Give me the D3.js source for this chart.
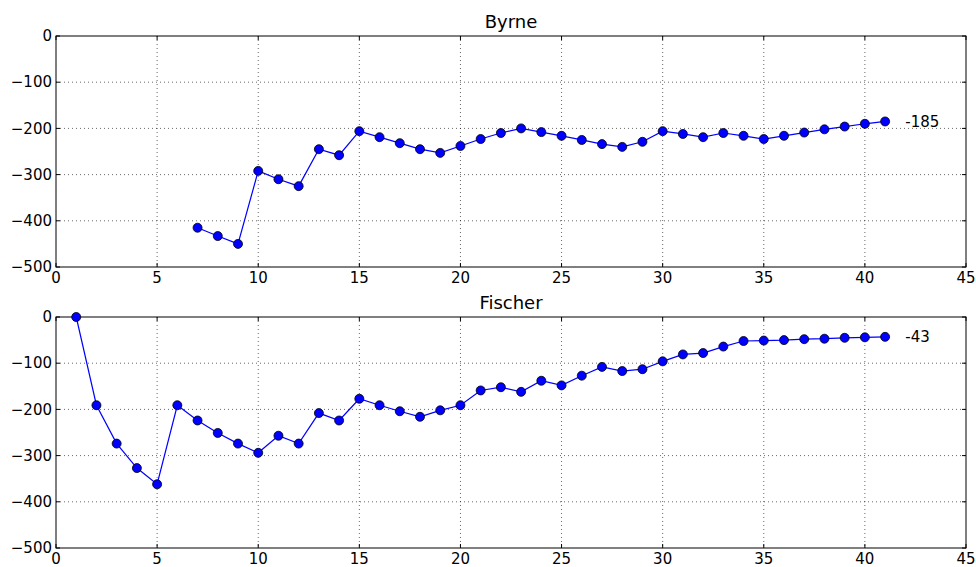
<!DOCTYPE html>
<html>
<head>
<meta charset="utf-8">
<script src="https://cdn.jsdelivr.net/npm/d3@7"></script>
<style>
  body { margin: 0; background: #fff; }
  svg { display: block; font-family: "DejaVu Sans", sans-serif; }
</style>
</head>
<body>
<div id="chart"></div>
<script>
// Byrne series starts at game 7, Fischer at game 1
const byrneX = d3.range(7, 42);
const byrneY = [-415, -433, -450, -292, -310, -325, -245, -258, -206, -219,
  -232, -245, -253, -238, -223, -210, -200, -208, -216, -225,
  -234, -240, -229, -206, -212, -219, -210, -216, -223, -216,
  -209, -202, -196, -190, -185];

const fischerX = d3.range(1, 42);
const fischerY = [0, -191, -274, -327, -362, -191, -224, -251, -274, -294,
  -257, -274, -208, -224, -177, -191, -204, -216, -202, -191,
  -159, -152, -162, -138, -148, -127, -108, -117, -113, -96,
  -81, -78, -64, -52, -51, -50, -48, -47, -45, -44, -43];

const panels = [
  { title: 'Byrne', xs: byrneX, ys: byrneY, top: 36 },
  { title: 'Fischer', xs: fischerX, ys: fischerY, top: 317 },
];

const xTicks = d3.range(0, 46, 5);
const yTicks = d3.range(0, -501, -100);

const width = 976, height = 567;
const left = 56, right = 966, plotH = 231;

const svg = d3.select('#chart').append('svg')
  .attr('width', width).attr('height', height);

const x = d3.scaleLinear().domain([0, 45]).range([left, right]);
const fmt = (d) => (d < 0 ? '\u2212' + Math.abs(d) : String(d));

panels.forEach((p) => {
  const y = d3.scaleLinear().domain([-500, 0]).range([p.top + plotH, p.top]);
  const g = svg.append('g');

  // grid
  g.selectAll('.gx').data(xTicks.slice(1, -1)).join('line')
    .attr('x1', (d) => x(d)).attr('x2', (d) => x(d))
    .attr('y1', p.top).attr('y2', p.top + plotH)
    .attr('stroke', '#000').attr('stroke-width', 0.6).attr('stroke-dasharray', '1,3');
  g.selectAll('.gy').data(yTicks.slice(1, -1)).join('line')
    .attr('y1', (d) => y(d)).attr('y2', (d) => y(d))
    .attr('x1', left).attr('x2', right)
    .attr('stroke', '#000').attr('stroke-width', 0.6).attr('stroke-dasharray', '1,3');

  // inward ticks on all four sides
  const tick = 4;
  xTicks.forEach((t) => {
    g.append('line').attr('x1', x(t)).attr('x2', x(t))
      .attr('y1', p.top + plotH).attr('y2', p.top + plotH - tick).attr('stroke', '#000');
    g.append('line').attr('x1', x(t)).attr('x2', x(t))
      .attr('y1', p.top).attr('y2', p.top + tick).attr('stroke', '#000');
  });
  yTicks.forEach((t) => {
    g.append('line').attr('x1', left).attr('x2', left + tick)
      .attr('y1', y(t)).attr('y2', y(t)).attr('stroke', '#000');
    g.append('line').attr('x1', right).attr('x2', right - tick)
      .attr('y1', y(t)).attr('y2', y(t)).attr('stroke', '#000');
  });

  // tick labels
  g.selectAll('.xl').data(xTicks).join('text')
    .attr('x', (d) => x(d)).attr('y', p.top + plotH + 16)
    .attr('text-anchor', 'middle').attr('font-size', 15).text((d) => d);
  g.selectAll('.yl').data(yTicks).join('text')
    .attr('x', left - 4).attr('y', (d) => y(d)).attr('dy', '0.35em')
    .attr('text-anchor', 'end').attr('font-size', 15).text(fmt);

  // frame
  g.append('rect').attr('x', left).attr('y', p.top)
    .attr('width', right - left).attr('height', plotH)
    .attr('fill', 'none').attr('stroke', '#000').attr('stroke-width', 1);

  // title
  g.append('text').attr('x', (left + right) / 2).attr('y', p.top - 8)
    .attr('text-anchor', 'middle').attr('font-size', 18).text(p.title);

  // series
  const pts = p.xs.map((d, i) => [d, p.ys[i]]);
  g.append('path')
    .attr('d', d3.line().x((d) => x(d[0])).y((d) => y(d[1]))(pts))
    .attr('fill', 'none').attr('stroke', '#0000ff').attr('stroke-width', 1.2);
  g.selectAll('.pt').data(pts).join('circle')
    .attr('cx', (d) => x(d[0])).attr('cy', (d) => y(d[1])).attr('r', 4.5)
    .attr('fill', '#0000ff').attr('stroke', '#000').attr('stroke-width', 0.8);

  // final value label
  const last = pts[pts.length - 1];
  g.append('text').attr('x', x(last[0] + 1)).attr('y', y(last[1])).attr('dy', '0.35em')
    .attr('font-size', 15).text(String(last[1]));
});
</script>
</body>
</html>
